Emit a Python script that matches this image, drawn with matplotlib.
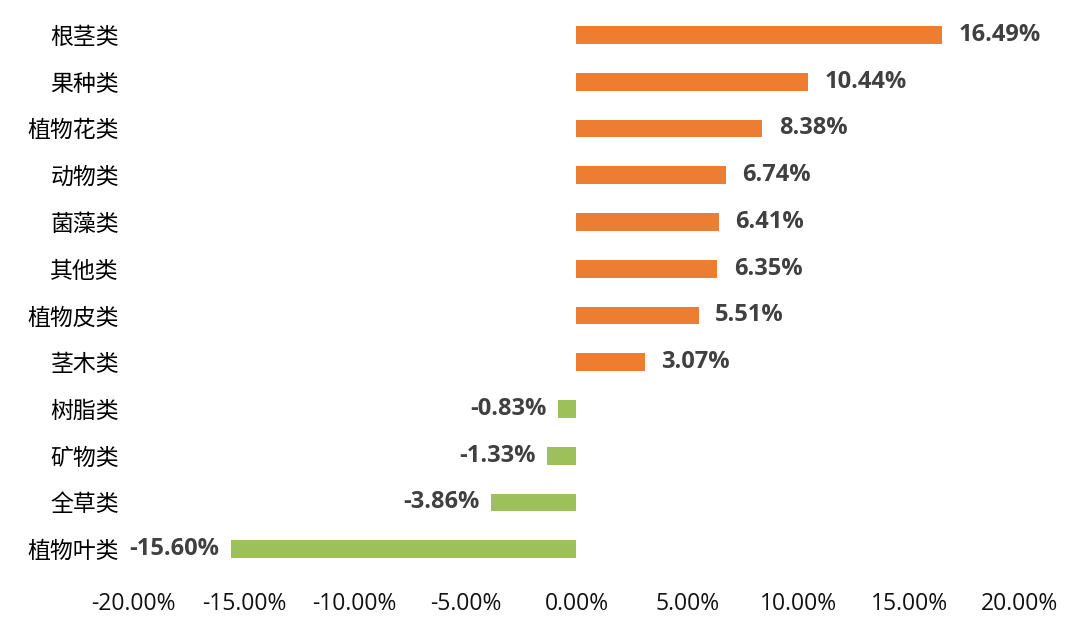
import matplotlib.pyplot as plt
from matplotlib.ticker import FuncFormatter

plt.rcParams['font.family'] = ['Noto Sans CJK SC', 'DejaVu Sans']

categories = ['根茎类', '果种类', '植物花类', '动物类', '菌藻类', '其他类',
              '植物皮类', '茎木类', '树脂类', '矿物类', '全草类', '植物叶类']
values = [16.49, 10.44, 8.38, 6.74, 6.41, 6.35, 5.51, 3.07, -0.83, -1.33, -3.86, -15.60]

orange = '#ED7D31'
green = '#9DC05A'
text_color = '#404040'

fig = plt.figure(figsize=(10.8, 6.34), dpi=100)
ax = fig.add_axes([0.1231, 0.0969, 0.8213, 0.8848])

ypos = list(range(len(categories)))
colors = [orange if v >= 0 else green for v in values]
ax.barh(ypos, values, height=0.38, color=colors)

num_font = ['Open Sans', 'DejaVu Sans']
for y, v in zip(ypos, values):
    if v >= 0:
        ax.annotate(f'{v:.2f}%', (v, y), xytext=(12, 0), textcoords='offset points',
                    ha='left', va='center', fontsize=17, fontweight='bold',
                    color=text_color, family=num_font)
    else:
        ax.annotate(f'{v:.2f}%', (v, y), xytext=(-8, 0), textcoords='offset points',
                    ha='right', va='center', fontsize=17, fontweight='bold',
                    color=text_color, family=num_font)

ax.set_xlim(-20, 20)
ax.set_ylim(len(categories) - 0.5, -0.5)
ax.set_xticks([-20, -15, -10, -5, 0, 5, 10, 15, 20])
ax.xaxis.set_major_formatter(FuncFormatter(lambda x, _: f'{x:.2f}%'))
ax.set_yticks(ypos)
ax.set_yticklabels(categories, fontsize=16.5, color='#000000')

for label in ax.get_xticklabels():
    label.set_family(num_font)
    label.set_fontsize(16.5)
    label.set_color('#111111')

ax.tick_params(axis='x', length=0, pad=14)
ax.tick_params(axis='y', length=0, pad=10)
for s in ax.spines.values():
    s.set_visible(False)

fig.savefig('out.png', dpi=100)
